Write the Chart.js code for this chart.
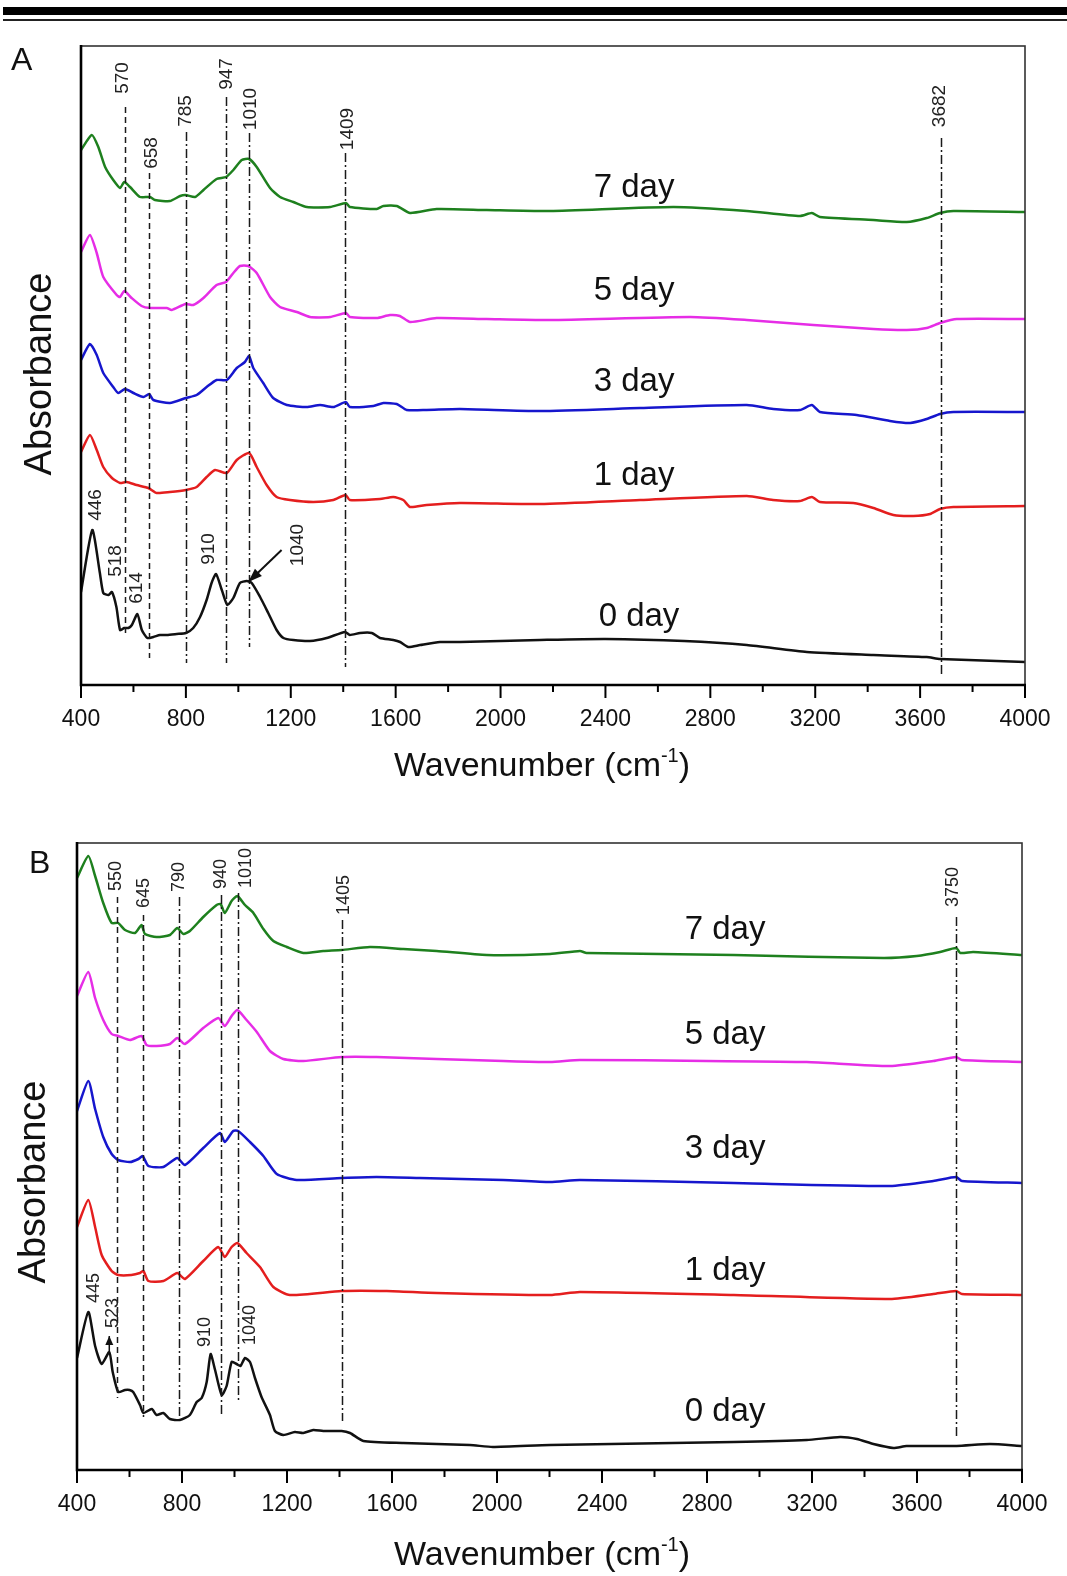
<!DOCTYPE html>
<html>
<head>
<meta charset="utf-8">
<title>FTIR spectra</title>
<script src="https://cdn.jsdelivr.net/npm/chart.js@4.4.0/dist/chart.umd.min.js"></script>
<style>
    body { margin: 0; background: #fff; width: 1067px; height: 1576px; position: relative; overflow: hidden; }
    .rule-thick { position: absolute; left: 3px; right: 0; top: 7px; height: 8px; background: #000; }
    .rule-thin { position: absolute; left: 3px; right: 0; top: 19px; height: 2px; background: #222; }
    #panelA { position: absolute; left: 0; top: 0; }
    #panelB { position: absolute; left: 0; top: 800px; }
</style>
</head>
<body>
<div class="rule-thick"></div>
<div class="rule-thin"></div>
<canvas id="panelA" width="1067" height="800"></canvas>
<canvas id="panelB" width="1067" height="776"></canvas>
<script>
// --- Data (wavenumber cm-1, absorbance in arbitrary offset units) ---
const wavenumberTicks = [400, 800, 1200, 1600, 2000, 2400, 2800, 3200, 3600, 4000];
const dayLabels = ['0 day', '1 day', '3 day', '5 day', '7 day'];

// Panel A
const a0day = [[400,93],[443,155],[472,112],[485,92],[505,90],[518,93],[535,78],[549,55],[565,57],[581,57],[594,60],[615,71],[632,55],[653,47],[676,48],[701,50],[727,50],[765,51],[800,52],[828,57],[854,68],[879,85],[898,102],[915,111],[937,95],[958,80],[981,87],[1006,102],[1032,104],[1051,102],[1083,88],[1114,72],[1146,55],[1172,47],[1210,45],[1273,44],[1337,47],[1407,53],[1425,50],[1464,52],[1509,52],[1540,47],[1591,45],[1617,43],[1648,38],[1693,40],[1769,43],[1845,43],[2000,44],[2150,45],[2400,46],[2700,44],[2939,40],[3168,33],[3421,30],[3625,28],[3676,26],[4000,23]];
const a1day = [[400,233],[434,250],[460,235],[485,218],[518,207],[549,202],[574,203],[612,200],[657,197],[689,192],[739,193],[800,195],[841,198],[879,208],[911,215],[956,212],[994,225],[1041,232],[1070,218],[1108,200],[1146,188],[1197,185],[1286,183],[1362,185],[1409,190],[1425,185],[1540,186],[1591,188],[1629,185],[1655,178],[1718,180],[1845,182],[2151,181],[2532,185],[2939,189],[3039,185],[3142,184],[3187,188],[3218,183],[3345,182],[3422,177],[3498,170],[3574,169],[3638,171],[3676,176],[3727,178],[4000,179]];
const a3day = [[400,325],[434,341],[460,330],[485,312],[523,298],[542,292],[568,296],[600,292],[638,288],[660,291],[676,285],[739,282],[800,287],[841,290],[879,298],[917,305],[956,305],[994,317],[1025,323],[1041,329],[1057,317],[1095,302],[1133,287],[1185,280],[1261,278],[1312,280],[1362,278],[1410,283],[1425,278],[1515,279],[1553,282],[1604,281],[1642,275],[1718,275],[1845,276],[2151,274],[2532,277],[2939,280],[3040,276],[3142,275],[3187,280],[3218,273],[3358,270],[3485,264],[3562,262],[3625,266],[3676,271],[3727,273],[4000,273]];
const a5day = [[400,433],[434,450],[460,432],[485,408],[536,390],[549,388],[565,394],[593,387],[631,379],[663,377],[727,377],[746,375],[799,381],[828,380],[867,387],[917,400],[953,403],[981,412],[1006,419],[1038,419],[1070,412],[1121,388],[1159,378],[1223,373],[1273,368],[1350,368],[1411,372],[1425,368],[1528,367],[1578,370],[1616,369],[1655,363],[1756,367],[1947,366],[2189,365],[2723,368],[2939,365],[3193,360],[3422,356],[3549,355],[3625,357],[3676,362],[3740,366],[4000,366]];
const a7day = [[400,535],[441,550],[466,538],[492,518],[523,505],[549,497],[565,503],[587,498],[625,488],[663,488],[682,485],[739,484],[778,489],[799,490],[835,488],[867,495],[917,506],[953,508],[981,515],[1013,525],[1041,526],[1070,518],[1121,497],[1159,488],[1210,483],[1261,478],[1350,478],[1411,482],[1425,478],[1528,476],[1553,479],[1604,479],[1655,472],[1756,476],[1947,475],[2189,474],[2659,478],[2939,474],[3142,469],[3187,472],[3218,468],[3422,465],[3549,463],[3625,467],[3676,472],[3727,474],[4000,473]];

// Panel B
const b0day = [[400,112],[443,158],[469,124],[494,106],[523,118],[536,98],[557,78],[583,80],[600,80],[614,78],[640,65],[653,57],[685,61],[703,55],[729,57],[754,51],[792,50],[830,55],[856,68],[875,72],[894,88],[909,116],[926,100],[951,75],[970,84],[989,108],[1008,106],[1023,104],[1040,112],[1059,108],[1078,92],[1103,73],[1135,55],[1154,39],[1186,35],[1230,38],[1262,37],[1300,40],[1338,39],[1408,39],[1440,37],[1491,29],[1643,27],[1897,25],[1984,23],[2202,25],[2902,28],[3180,30],[3307,33],[3371,31],[3434,26],[3510,22],[3560,24],[3751,24],[3878,26],[4000,24]];
const b1day = [[400,243],[443,270],[469,243],[494,215],[532,199],[557,195],[607,195],[640,197],[653,199],[672,189],[729,189],[782,197],[811,191],[881,209],[938,223],[963,213],[989,223],[1011,227],[1046,217],[1097,203],[1148,183],[1211,175],[1408,179],[1580,179],[1770,177],[2202,175],[2316,178],[2902,175],[3497,171],[3662,176],[3749,179],[3771,176],[4000,175]];
const b3day = [[400,359],[443,389],[469,361],[500,333],[532,316],[557,310],[602,308],[634,311],[650,314],[672,304],[729,303],[782,312],[811,305],[881,322],[945,337],[963,328],[995,339],[1014,339],[1059,328],[1110,314],[1161,296],[1237,290],[1408,292],[1541,293],[1706,292],[2024,290],[2202,288],[2316,290],[2902,287],[3497,284],[3662,289],[3749,293],[3771,289],[4000,287]];
const b5day = [[400,474],[443,498],[469,472],[500,450],[532,436],[557,434],[602,430],[646,434],[665,425],[703,424],[754,426],[782,432],[811,426],[881,442],[938,452],[963,444],[989,454],[1011,460],[1046,450],[1085,438],[1135,419],[1186,411],[1262,409],[1408,413],[1541,413],[1770,411],[2024,409],[2202,408],[2316,410],[2798,409],[3180,408],[3497,404],[3662,409],[3749,413],[3771,410],[4000,408]];
const b7day = [[400,592],[443,614],[469,594],[500,567],[532,547],[557,547],[583,540],[621,537],[646,545],[659,536],[703,533],[754,535],[782,542],[805,536],[830,539],[881,553],[932,565],[947,566],[963,557],[989,569],[1011,574],[1040,565],[1072,557],[1110,541],[1148,529],[1199,523],[1262,517],[1338,519],[1408,520],[1516,523],[1643,521],[1770,519],[1961,515],[2202,516],[2316,519],[2341,517],[2902,515],[3472,512],[3599,514],[3688,518],[3749,522],[3765,517],[3814,518],[4000,515]];

// Marked bands (where the guide line sits, and its label)
const aMarkWn = [567, 659, 800, 954, 1039, 1408, 3680];
const aMarkText = ['570', '658', '785', '947', '1010', '1409', '3682'];
const bMarkWn = [553, 650, 789, 947, 1012, 1408, 3749];
const bMarkText = ['550', '645', '790', '940', '1010', '1405', '3750'];

// Peak callouts on the 0 day curve
const aPeakText = ['446', '518', '614', '910', '1040'];
const bPeakText = ['445', '523', '910', '1040'];

// --- Layout of annotations (value units of each panel) ---
const colors = ['#111111', 'rgb(228,30,30)', 'rgb(22,22,205)', 'rgb(230,45,230)', 'rgb(30,128,30)'];
const FONT = '"Liberation Sans", Arial, Helvetica, sans-serif';

const panelA = {
    letter: 'A',
    series: [a0day, a1day, a3day, a5day, a7day],
    yMax: 639,
    box: { top: 46, right: 42, left: 81, bottom: 115 },
    marks: {
        wn: aMarkWn, text: aMarkText, size: 19,
        dash: ['d', 'd', 'dd', 'dd', 'dd', 'dd', 'dd'],
        span: [[49, 578], [27, 512], [22, 553], [22, 588], [38, 552], [18, 532], [10, 547]],
        textAt: [607, 532, 574, 611, 576, 556, 579],
        dx: [-3, 2, -1, 0, 1, 2, -2]
    },
    peaks: { text: aPeakText, wn: [456, 533, 612, 888, 1228], at: [180, 124, 97, 136, 140], size: 19 },
    arrow: { from: [1165, 135], to: [1038, 103] },
    dayWn: [2528, 2509, 2509, 2509, 2509],
    dayAt: [59, 200, 294, 385, 488],
    letterPos: [11, 70],
    absPos: [41, 374],
    titlePos: [542, 776]
};

const panelB = {
    letter: 'B',
    series: [b0day, b1day, b3day, b5day, b7day],
    yMax: 627,
    box: { top: 43, right: 45, left: 77, bottom: 106 },
    marks: {
        wn: bMarkWn, text: bMarkText, size: 18,
        dash: ['d', 'd', 'dd', 'dd', 'dd', 'dd', 'dd'],
        span: [[72, 573], [53, 555], [51, 573], [55, 575], [68, 577], [49, 550], [31, 553]],
        textAt: [594, 577, 593, 596, 602, 575, 583],
        dx: [-1, 1, 0, 0, 8, 2, -3]
    },
    peaks: { text: bPeakText, wn: [465, 537, 888, 1059], at: [182, 157, 138, 145], size: 18 },
    tinyArrow: { wn: 523, base: 119, tip: 134 },
    dayWn: [2869, 2869, 2869, 2869, 2869],
    dayAt: [49, 190, 312, 426, 531],
    letterPos: [29, 73],
    absPos: [35, 382],
    titlePos: [542, 765]
};

// --- Helpers ---
const vText = (ctx, text, x, y, size) => {
    ctx.save();
    ctx.translate(x, y);
    ctx.rotate(-Math.PI / 2);
    ctx.font = `${size}px ${FONT}`;
    ctx.textAlign = 'center';
    ctx.textBaseline = 'middle';
    ctx.fillText(text, 0, 0);
    ctx.restore();
};

const arrowHead = (ctx, x1, y1, x2, y2, len, half) => {
    const a = Math.atan2(y2 - y1, x2 - x1);
    ctx.beginPath();
    ctx.moveTo(x2, y2);
    ctx.lineTo(x2 - len * Math.cos(a) + half * Math.sin(a), y2 - len * Math.sin(a) - half * Math.cos(a));
    ctx.lineTo(x2 - len * Math.cos(a) - half * Math.sin(a), y2 - len * Math.sin(a) + half * Math.cos(a));
    ctx.closePath();
    ctx.fill();
};

const decorPlugin = (panel) => ({
    id: 'decor' + panel.letter,
    afterDatasetsDraw(chart) {
        const { ctx, chartArea: ca } = chart;
        const xs = chart.scales.x, ys = chart.scales.y;
        ctx.save();

        // frame
        ctx.strokeStyle = '#333';
        ctx.lineWidth = 1.6;
        ctx.strokeRect(ca.left, ca.top, ca.right - ca.left, ca.bottom - ca.top);
        ctx.strokeStyle = '#000';
        ctx.lineWidth = 2.6;
        ctx.beginPath();
        ctx.moveTo(ca.left, ca.top - 1);
        ctx.lineTo(ca.left, ca.bottom);
        ctx.lineTo(ca.right + 1, ca.bottom);
        ctx.stroke();

        // major and minor ticks
        ctx.lineWidth = 2;
        wavenumberTicks.forEach((v, i) => {
            const px = xs.getPixelForValue(v);
            ctx.beginPath(); ctx.moveTo(px, ca.bottom); ctx.lineTo(px, ca.bottom + 13); ctx.stroke();
            if (i < wavenumberTicks.length - 1) {
                const mx = xs.getPixelForValue((v + wavenumberTicks[i + 1]) / 2);
                ctx.beginPath(); ctx.moveTo(mx, ca.bottom); ctx.lineTo(mx, ca.bottom + 7); ctx.stroke();
            }
        });

        // guide lines + labels
        const m = panel.marks;
        ctx.fillStyle = '#222';
        m.wn.forEach((wn, i) => {
            const px = Math.round(xs.getPixelForValue(wn)) + 0.5;
            ctx.strokeStyle = '#1a1a1a';
            ctx.lineWidth = 1.5;
            ctx.setLineDash(m.dash[i] === 'd' ? [6, 4] : [9, 3, 2, 3]);
            ctx.beginPath();
            ctx.moveTo(px, ys.getPixelForValue(m.span[i][1]));
            ctx.lineTo(px, ys.getPixelForValue(m.span[i][0]));
            ctx.stroke();
            ctx.setLineDash([]);
            vText(ctx, m.text[i], px + m.dx[i], ys.getPixelForValue(m.textAt[i]), m.size);
        });

        // peak callouts
        const p = panel.peaks;
        p.text.forEach((t, i) => {
            vText(ctx, t, xs.getPixelForValue(p.wn[i]), ys.getPixelForValue(p.at[i]), p.size);
        });
        ctx.strokeStyle = '#111';
        ctx.fillStyle = '#111';
        if (panel.arrow) {
            const x1 = xs.getPixelForValue(panel.arrow.from[0]), y1 = ys.getPixelForValue(panel.arrow.from[1]);
            const x2 = xs.getPixelForValue(panel.arrow.to[0]), y2 = ys.getPixelForValue(panel.arrow.to[1]);
            ctx.lineWidth = 2;
            ctx.beginPath(); ctx.moveTo(x1, y1); ctx.lineTo(x2, y2); ctx.stroke();
            arrowHead(ctx, x1, y1, x2, y2, 14, 5);
        }
        if (panel.tinyArrow) {
            const ta = panel.tinyArrow;
            const x = xs.getPixelForValue(ta.wn);
            const y1 = ys.getPixelForValue(ta.base), y2 = ys.getPixelForValue(ta.tip);
            ctx.lineWidth = 1.5;
            ctx.beginPath(); ctx.moveTo(x, y1); ctx.lineTo(x, y2); ctx.stroke();
            arrowHead(ctx, x, y1, x, y2, 9, 4);
        }

        // series labels
        ctx.fillStyle = '#111';
        ctx.font = `33px ${FONT}`;
        ctx.textAlign = 'center';
        ctx.textBaseline = 'alphabetic';
        dayLabels.forEach((d, i) => {
            ctx.fillText(d, xs.getPixelForValue(panel.dayWn[i]), ys.getPixelForValue(panel.dayAt[i]));
        });

        // panel letter
        ctx.textAlign = 'left';
        ctx.font = `32px ${FONT}`;
        ctx.fillText(panel.letter, panel.letterPos[0], panel.letterPos[1]);

        // y title
        ctx.fillStyle = '#111';
        vText(ctx, 'Absorbance', panel.absPos[0], panel.absPos[1], 38);

        // x title with superscript
        const big = `34px ${FONT}`, small = `20px ${FONT}`;
        ctx.font = big;
        const w1 = ctx.measureText('Wavenumber (cm').width;
        const w3 = ctx.measureText(')').width;
        ctx.font = small;
        const w2 = ctx.measureText('-1').width;
        let tx = panel.titlePos[0] - (w1 + w2 + w3) / 2;
        const ty = panel.titlePos[1];
        ctx.font = big;
        ctx.fillText('Wavenumber (cm', tx, ty);
        ctx.font = small;
        ctx.fillText('-1', tx + w1, ty - 14);
        ctx.font = big;
        ctx.fillText(')', tx + w1 + w2, ty);

        ctx.restore();
    }
});

const makePanel = (canvasId, panel) => {
    const datasets = panel.series.map((pts, i) => ({
        label: dayLabels[i],
        data: pts.map(p => ({ x: p[0], y: p[1] })),
        borderColor: colors[i],
        borderWidth: 2.5,
        pointRadius: 0,
        tension: 0.2,
        fill: false
    }));

    return new Chart(document.getElementById(canvasId), {
        type: 'line',
        data: { datasets },
        options: {
            responsive: false,
            animation: false,
            devicePixelRatio: 1,
            layout: { padding: { top: panel.box.top, right: panel.box.right, left: 0, bottom: 0 } },
            plugins: { legend: { display: false }, tooltip: { enabled: false } },
            scales: {
                x: {
                    type: 'linear',
                    min: wavenumberTicks[0],
                    max: wavenumberTicks[wavenumberTicks.length - 1],
                    afterBuildTicks: (s) => { s.ticks = wavenumberTicks.map(v => ({ value: v })); },
                    ticks: {
                        font: { size: 23, family: FONT },
                        color: '#111',
                        padding: 21,
                        maxRotation: 0,
                        autoSkip: false,
                        callback: (v) => String(v)
                    },
                    grid: { display: false, drawTicks: false },
                    border: { display: false },
                    afterFit: (s) => {
                        s.height = panel.box.bottom;
                        s.paddingLeft = 0;
                        s.paddingRight = 0;
                    }
                },
                y: {
                    min: 0,
                    max: panel.yMax,
                    ticks: { display: false },
                    grid: { display: false, drawTicks: false },
                    border: { display: false },
                    afterFit: (s) => { s.width = panel.box.left; }
                }
            }
        },
        plugins: [decorPlugin(panel)]
    });
};

makePanel('panelA', panelA);
makePanel('panelB', panelB);
</script>
</body>
</html>
